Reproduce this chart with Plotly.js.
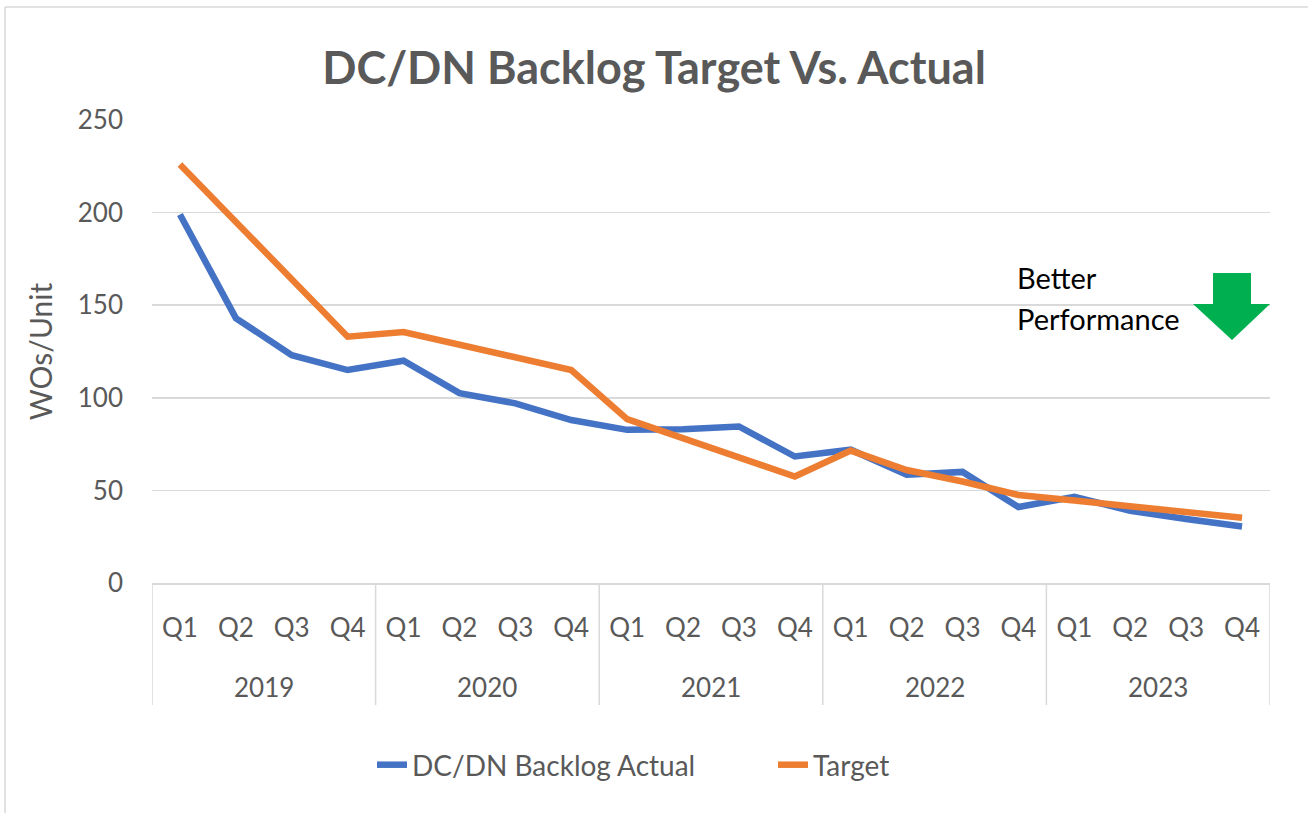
<!DOCTYPE html>
<html>
<head>
<meta charset="utf-8">
<script src="https://cdn.plot.ly/plotly-3.0.1.min.js"></script>
<style>html,body{margin:0;padding:0;background:#fff;}#chart{width:1308px;height:813px;}</style>
</head>
<body>
<div id="chart"></div>
<script>
const years = ["2019","2019","2019","2019","2020","2020","2020","2020","2021","2021","2021","2021","2022","2022","2022","2022","2023","2023","2023","2023"];
const quarters = ["Q1","Q2","Q3","Q4","Q1","Q2","Q3","Q4","Q1","Q2","Q3","Q4","Q1","Q2","Q3","Q4","Q1","Q2","Q3","Q4"];
const actual = [199, 143, 123, 115, 120, 102.5, 97, 88, 82.7, 83, 84.5, 68.3, 72, 58.5, 60, 41, 46.5, 39, 34.6, 30.5];
const target = [226, 195, 164, 133, 135.5, 128.6, 122, 115, 88.5, 78.4, 68, 57.5, 71.5, 61, 54.8, 47.5, 44.5, 41.2, 38.2, 35.2];
const seriesNames = ["DC/DN Backlog Actual", "Target"];
const titleText = "DC/DN Backlog Target Vs. Actual";
const yTitle = "WOs/Unit";
const noteLines = ["Better", "Performance"];

const FONT = "Lato, 'Open Sans', sans-serif";
const GREY = "#595959";
const GRID = "#d9d9d9";

// unique category keys, shown with quarter tick text
const cats = years.map((y, i) => y + " " + quarters[i]);

const traces = [
  {x: cats, y: actual, name: seriesNames[0], type: "scatter", mode: "lines",
   line: {color: "#4472C4", width: 6.5}},
  {x: cats, y: target, name: seriesNames[1], type: "scatter", mode: "lines",
   line: {color: "#ED7D31", width: 6.5}}
];

const L = 152, R = 1270, T = 120, B = 583;
const px = v => (v - L) / (R - L);
const py = v => (B - v) / (B - T);

const arrowPath = "M" + px(1213) + "," + py(273) + " L" + px(1251) + "," + py(273) +
  " L" + px(1251) + "," + py(304) + " L" + px(1270) + "," + py(304) +
  " L" + px(1232) + "," + py(340) + " L" + px(1193) + "," + py(304) +
  " L" + px(1213) + "," + py(304) + " Z";

// year groups: boundaries and centres derived from the years array
const groups = [];
years.forEach((y, i) => {
  if (!groups.length || groups[groups.length - 1].year !== y) groups.push({year: y, start: i, end: i});
  else groups[groups.length - 1].end = i;
});

const shapes = [
  {type: "path", xref: "paper", yref: "paper", path: arrowPath, fillcolor: "#00B050", line: {width: 0}},
  {type: "line", xref: "paper", yref: "paper", x0: px(5), x1: px(5), y0: py(7), y1: py(813), line: {color: GRID, width: 1.5}},
  {type: "line", xref: "paper", yref: "paper", x0: px(5), x1: px(1308), y0: py(7), y1: py(7), line: {color: GRID, width: 1.5}}
];
const annotations = [
  {xref: "paper", yref: "paper", x: px(1015), y: py(277), xanchor: "left", yanchor: "middle", showarrow: false,
   text: noteLines[0], font: {size: 29, color: "#000", family: FONT}},
  {xref: "paper", yref: "paper", x: px(1015), y: py(318), xanchor: "left", yanchor: "middle", showarrow: false,
   text: noteLines[1], font: {size: 29, color: "#000", family: FONT}}
];
groups.forEach((g, k) => {
  if (k === 0) shapes.push({type: "line", xref: "x", yref: "paper", x0: g.start - 0.5, x1: g.start - 0.5, y0: 0, y1: py(705), line: {color: GRID, width: 1.5}});
  shapes.push({type: "line", xref: "x", yref: "paper", x0: g.end + 0.5, x1: g.end + 0.5, y0: 0, y1: py(705), line: {color: GRID, width: 1.5}});
  annotations.push({xref: "x", yref: "paper", x: (g.start + g.end) / 2, y: py(687), yanchor: "middle", showarrow: false,
    text: g.year, font: {size: 26, color: GREY, family: FONT}});
});

const layout = {
  width: 1308, height: 813,
  margin: {l: L, r: 1308 - R, t: T, b: 813 - B},
  paper_bgcolor: "#fff", plot_bgcolor: "#fff",
  font: {family: FONT, color: GREY, size: 26},
  title: {text: "<b>" + titleText + "</b>", font: {family: FONT, size: 45, color: GREY},
          x: 0.5, xref: "container", xanchor: "center", y: (813 - 68) / 813, yref: "container", yanchor: "middle"},
  showlegend: true,
  legend: {orientation: "h", xref: "container", x: 372 / 1308, xanchor: "left", yref: "container",
           y: (813 - 765) / 813, yanchor: "middle", font: {size: 28, color: GREY}, entrywidth: 356, entrywidthmode: "pixels"},
  xaxis: {type: "category", range: [-0.5, cats.length - 0.5], tickvals: cats, ticktext: quarters,
          showgrid: false, showline: true, linecolor: GRID, linewidth: 1.5,
          ticks: "", tickfont: {size: 26, color: GREY}, ticklabelstandoff: 21, fixedrange: true},
  yaxis: {range: [0, 250], tickvals: [0, 50, 100, 150, 200, 250], showgrid: true, gridcolor: GRID, gridwidth: 1.5,
          zeroline: false, showline: false, ticks: "", ticklabelstandoff: 28, tickfont: {size: 26, color: GREY},
          title: {text: yTitle, font: {size: 30, color: GREY}, standoff: 16}, fixedrange: true},
  shapes: shapes,
  annotations: annotations
};

Plotly.newPlot("chart", traces, layout, {displayModeBar: false, staticPlot: true});
</script>
</body>
</html>
